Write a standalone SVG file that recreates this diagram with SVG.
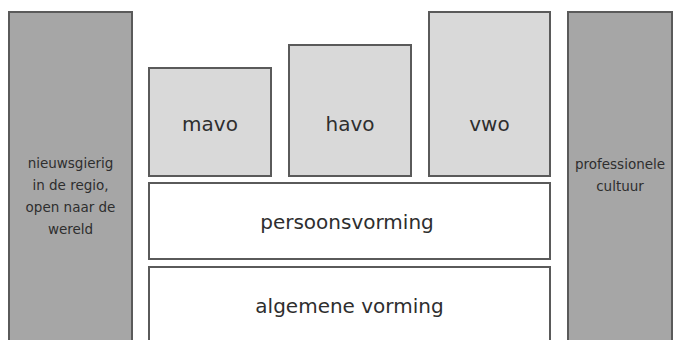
<svg xmlns="http://www.w3.org/2000/svg" width="684" height="340" viewBox="0 0 684 340">
<style>
.box{stroke:#5a5a5a;stroke-width:2}
.dark{fill:#a6a6a6}
.light{fill:#d9d9d9}
.white{fill:#ffffff}
.big{font-family:"DejaVu Sans",sans-serif;font-size:20px;fill:#2e2e2e;text-anchor:middle}
.small{font-family:"DejaVu Sans",sans-serif;font-size:13.5px;fill:#2e2e2e;text-anchor:middle}
</style>
<rect width="684" height="340" fill="#ffffff"/>
<g id="left">
<rect class="box dark" x="9" y="12" width="123" height="340"/>
<text class="small" x="70.5" y="168">nieuwsgierig</text>
<text class="small" x="70.5" y="190">in de regio,</text>
<text class="small" x="70.5" y="212">open naar de</text>
<text class="small" x="70.5" y="234">wereld</text>
</g>
<g id="right">
<rect class="box dark" x="568" y="12" width="104" height="340"/>
<text class="small" x="620" y="169">professionele</text>
<text class="small" x="620" y="191">cultuur</text>
</g>
<g id="mavo">
<rect class="box light" x="149" y="68" width="122" height="108"/>
<text class="big" x="210" y="131">mavo</text>
</g>
<g id="havo">
<rect class="box light" x="289" y="45" width="122" height="131"/>
<text class="big" x="350" y="131">havo</text>
</g>
<g id="vwo">
<rect class="box light" x="429" y="12" width="121" height="164"/>
<text class="big" x="489.5" y="131">vwo</text>
</g>
<g id="persoonsvorming">
<rect class="box white" x="149" y="183" width="401" height="76"/>
<text class="big" x="347" y="229">persoonsvorming</text>
</g>
<g id="algemene">
<rect class="box white" x="149" y="267" width="401" height="90"/>
<text class="big" x="349.5" y="313">algemene vorming</text>
</g>
<g id="connectors"/>
</svg>
